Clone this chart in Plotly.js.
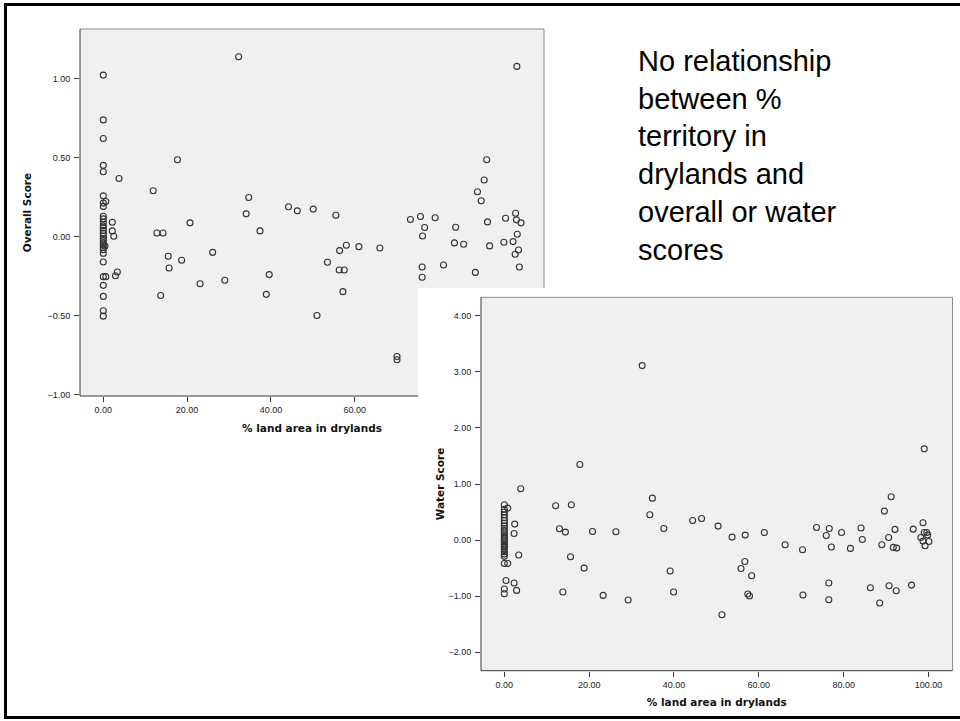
<!DOCTYPE html>
<html>
<head>
<meta charset="utf-8">
<script src="https://cdn.plot.ly/plotly-3.0.1.min.js"></script>
<style>html,body{margin:0;padding:0;background:#fff;}#chart{width:960px;height:721px;}</style>
</head>
<body>
<div id="chart"></div>
<script>
// ---------- DATA ----------
var overallX = [0,0,0,0,0,0,0,0.6,0,0,0,0,0,0,0,0,0,0,0,0,0,0.4,0,0,0,0,0,0.6,0,0,0,0,
  2.15,2.15,2.5,2.9,3.35,3.75,
  11.9,12.8,14.25,13.7,15.5,15.7,17.7,18.7,20.7,23.1,26.1,29.0,
  32.3,34.1,34.7,37.4,38.9,39.6,
  44.2,46.3,50.1,51.0,53.5,55.5,56.3,56.4,57.2,57.5,58.0,61.0,66.0,
  70.1,70.1,73.3,75.7,76.1,76.1,76.2,76.7,79.2,81.2,83.8,84.1,86.0,88.8,
  89.3,90.2,90.9,91.5,91.7,92.2,95.6,96.0,97.8,98.3,98.4,98.6,98.7,98.8,99.1,99.3,99.7];
var overallY = [1.023,0.739,0.621,0.451,0.411,0.258,0.212,0.222,0.191,0.129,0.112,0.090,0.068,0.055,0.039,0.020,0.002,-0.012,-0.025,-0.040,-0.053,-0.060,-0.070,-0.083,-0.106,-0.161,-0.254,-0.254,-0.309,-0.379,-0.470,-0.504,
  0.091,0.036,0.002,-0.248,-0.224,0.368,
  0.290,0.023,0.023,-0.373,-0.125,-0.199,0.487,-0.150,0.087,-0.299,-0.100,-0.277,
  1.139,0.144,0.248,0.036,-0.366,-0.241,
  0.189,0.163,0.174,-0.500,-0.163,0.135,-0.212,-0.089,-0.349,-0.212,-0.055,-0.064,-0.072,
  -0.760,-0.780,0.108,0.127,-0.193,-0.258,0.004,0.057,0.119,-0.180,-0.040,0.059,-0.049,-0.227,
  0.284,0.227,0.358,0.487,0.093,-0.059,-0.036,0.116,-0.032,-0.112,0.148,0.106,1.078,0.015,-0.085,-0.193,0.087];

var waterX = [0,0.8,0,0,0,0,0,0,0,0,0,0,0,0,0,0,0,0,0,0,0,0,0,0,0,0.8,0.4,0,0,
  2.3,2.45,3.4,2.3,2.9,3.87,
  12.1,13.0,13.8,14.4,15.6,15.8,17.8,18.8,20.8,23.3,26.3,29.2,
  32.5,34.3,34.9,37.6,39.1,39.9,
  44.4,46.5,50.4,51.3,53.7,55.8,56.7,56.8,57.4,57.8,58.3,61.3,66.2,
  70.3,70.4,73.6,75.9,76.5,76.5,76.6,77.1,79.5,81.6,84.1,84.4,86.3,88.5,89.0,89.6,90.6,90.7,91.2,91.7,92.1,92.4,92.5,
  96.0,96.4,98.2,98.7,98.7,99.0,99.0,99.2,99.6,99.8,100.1];
var waterY = [0.63,0.57,0.55,0.50,0.45,0.40,0.35,0.30,0.25,0.21,0.17,0.13,0.09,0.05,0.02,-0.01,-0.04,-0.07,-0.10,-0.13,-0.17,-0.21,-0.25,-0.29,-0.417,-0.417,-0.72,-0.874,-0.957,
  0.118,0.285,-0.267,-0.767,-0.898,0.914,
  0.611,0.201,-0.927,0.142,-0.298,0.629,1.348,-0.500,0.153,-0.987,0.148,-1.070,
  3.112,0.451,0.748,0.207,-0.553,-0.927,
  0.350,0.385,0.249,-1.332,0.053,-0.506,-0.381,0.089,-0.963,-0.998,-0.636,0.136,-0.084,
  -0.173,-0.981,0.225,0.082,-0.767,-1.064,0.207,-0.125,0.136,-0.149,0.214,0.011,-0.850,-1.123,-0.084,0.517,0.047,-0.815,0.772,-0.131,0.190,-0.904,-0.143,
  -0.803,0.195,0.047,0.308,-0.018,0.136,1.627,-0.102,0.136,0.089,-0.025];

var overallXTicks = [0, 20, 40, 60];
var overallYTicks = [-1, -0.5, 0, 0.5, 1];
var waterXTicks = [0, 20, 40, 60, 80, 100];
var waterYTicks = [-2, -1, 0, 1, 2, 3, 4];
var xTitle = '% land area in drylands';
var overallTitle = 'Overall Score';
var waterTitle = 'Water Score';
var noteLines = ['No relationship', 'between %', 'territory in', 'drylands and', 'overall or water', 'scores'];

// ---------- LAYOUT HELPERS ----------
var W = 960, H = 721;
function fx(p){ return p / W; }
function fy(p){ return 1 - p / H; }
function line(x0, y0, x1, y1, color){
  return {type:'line', xref:'paper', yref:'paper', x0:fx(x0), y0:fy(y0), x1:fx(x1), y1:fy(y1),
          line:{color:color, width:1}, layer:'below'};
}
var BG = '#f0f0f0', DARK = '#3a3a3a', LIGHT = '#8c8c8c';

// top plot box (px): left 80, top 29, right 544, bottom 396; panel corner at (418, 288)
var shapes = [
  {type:'path', xref:'paper', yref:'paper', layer:'below', fillcolor:BG, line:{width:0},
   path:'M'+fx(80)+','+fy(29)+' L'+fx(544)+','+fy(29)+' L'+fx(544)+','+fy(288)+' L'+fx(418)+','+fy(288)+
        ' L'+fx(418)+','+fy(396)+' L'+fx(80)+','+fy(396)+' Z'},
  line(80,29,544,29,LIGHT), line(544,29,544,288,LIGHT),
  line(80,29,80,396,DARK), line(80,396,418,396,DARK),
  // bottom plot box (px): left 481, top 297.3, right 952.5, bottom 670.7
  {type:'rect', xref:'paper', yref:'paper', layer:'below', fillcolor:BG, line:{width:0},
   x0:fx(481), y0:fy(670.7), x1:fx(952.5), y1:fy(297.3)},
  line(481,297.3,952.5,297.3,LIGHT), line(952.5,297.3,952.5,670.7,LIGHT),
  line(481,297.3,481,670.7,DARK), line(481,670.7,952.5,670.7,DARK),
  // slide frame
  {type:'rect', xref:'paper', yref:'paper', layer:'above', line:{color:'#000', width:3},
   x0:fx(5.5), y0:fy(717.5), x1:1.02, y1:fy(4.5)}
];

var marker = {symbol:'circle-open', size:6, color:'#333', line:{width:1.1, color:'#333'}};
var traces = [
  {type:'scatter', mode:'markers', x:overallX, y:overallY, xaxis:'x', yaxis:'y', marker:marker, hoverinfo:'x+y'},
  {type:'scatter', mode:'markers', x:waterX, y:waterY, xaxis:'x2', yaxis:'y2', marker:marker, hoverinfo:'x+y'}
];

var tickFont = {family:'Liberation Sans, Arial, sans-serif', size:9, color:'#222'};
var titleFont = {family:'DejaVu Sans, Verdana, sans-serif', size:10.5, color:'#111', weight:'bold'};
function axis(extra){
  var a = {showgrid:false, zeroline:false, showline:false, ticks:'outside', ticklen:5, tickwidth:1,
           tickcolor:DARK, tickfont:tickFont, tickformat:'.2f', tickmode:'array', automargin:false, fixedrange:true};
  for (var k in extra) a[k] = extra[k];
  return a;
}

var annotations = [{
  xref:'paper', yref:'paper', x:fx(636), y:fy(155.8), xanchor:'left', yanchor:'middle',
  text: noteLines.join('<br>'), align:'left', showarrow:false,
  font:{family:'Liberation Sans, Arial, sans-serif', size:29, color:'#000'}
}];

var layout = {
  width:W, height:H, margin:{l:0, r:0, t:0, b:0},
  paper_bgcolor:'#fff', plot_bgcolor:'rgba(0,0,0,0)', showlegend:false,
  xaxis: axis({domain:[fx(80), fx(544)], range:[-5.56, 105.18], anchor:'y', tickvals:overallXTicks,
               title:{text:xTitle, font:titleFont, standoff:10}}),
  yaxis: axis({domain:[fy(396), fy(29)], range:[-1.01, 1.315], anchor:'x', tickvals:overallYTicks,
               ticklabelstandoff:2, title:{text:overallTitle, font:titleFont, standoff:13}}),
  xaxis2: axis({domain:[fx(481), fx(952.5)], range:[-5.5, 105.66], anchor:'y2', tickvals:waterXTicks,
               title:{text:xTitle, font:titleFont, standoff:10}}),
  yaxis2: axis({domain:[fy(670.7), fy(297.3)], range:[-2.33, 4.33], anchor:'x2', tickvals:waterYTicks,
               ticklabelstandoff:2, title:{text:waterTitle, font:titleFont, standoff:1}}),
  shapes: shapes,
  annotations: annotations
};

Plotly.newPlot('chart', traces, layout, {staticPlot:true, displayModeBar:false});
</script>
</body>
</html>
